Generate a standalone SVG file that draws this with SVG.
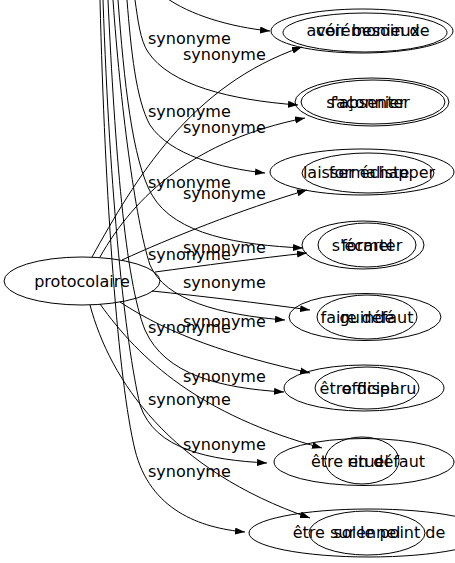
<svg xmlns="http://www.w3.org/2000/svg" width="455" height="563" viewBox="0 0 455 563">
<style>
.n ellipse{fill:none;stroke:#000;stroke-width:1}
text{font-family:"DejaVu Sans",sans-serif;font-size:16px;fill:#000}
.n text{text-anchor:middle}
.e path{fill:none;stroke:#000;stroke-width:1;marker-end:url(#ah)}
</style>
<defs>
<marker id="ah" markerUnits="userSpaceOnUse" markerWidth="11" markerHeight="8" refX="10" refY="3.5" orient="auto">
<path d="M0,0 L10,3.5 L0,7 z" fill="#000"/>
</marker>
</defs>
<rect width="455" height="563" fill="#fff"/>
<g id="edges" class="e">
<path d="M165,-3 C190,15 230,27 270,31"/>
<path d="M135,0 C138,20 140,40 148,52 C170,85 230,100 298,105"/>
<path d="M127,0 C131,50 136,100 150,125 C170,155 220,168 265,173"/>
<path d="M118,0 C124,80 132,160 152,195 C175,235 240,245 303,248"/>
<path d="M113,0 C120,100 135,220 150,265 C165,300 220,315 285,320"/>
<path d="M108,0 C115,150 125,280 145,330 C165,375 220,388 284,392"/>
<path d="M103,0 C110,200 125,340 140,405 C155,450 210,460 267,463"/>
<path d="M100,0 C105,200 118,380 135,450 C150,510 200,528 245,532"/>
<path d="M92,257 C135,180 190,85 302,47"/>
<path d="M100,257 C135,195 195,140 305,118"/>
<path d="M122,260 C170,238 240,210 307,190"/>
<path d="M155,272 C200,266 260,258 307,253"/>
<path d="M152,291 C200,296 260,303 310,310"/>
<path d="M120,302 C170,335 230,355 310,373"/>
<path d="M100,304 C140,360 200,415 322,448"/>
<path d="M90,305 C110,380 170,470 310,518"/>
</g>
<g id="labels">
<text x="148" y="44">synonyme</text>
<text x="148" y="117">synonyme</text>
<text x="148" y="188">synonyme</text>
<text x="148" y="260">synonyme</text>
<text x="148" y="333">synonyme</text>
<text x="148" y="405">synonyme</text>
<text x="148" y="477">synonyme</text>
<text x="183" y="60">synonyme</text>
<text x="183" y="133">synonyme</text>
<text x="183" y="199">synonyme</text>
<text x="183" y="253">synonyme</text>
<text x="183" y="288">synonyme</text>
<text x="183" y="327">synonyme</text>
<text x="183" y="382">synonyme</text>
<text x="183" y="450">synonyme</text>
</g>
<g id="protocolaire" class="n"><ellipse cx="82" cy="281" rx="78" ry="24"/><text x="82" y="287">protocolaire</text></g>
<g id="avoir_besoin_de" class="n"><ellipse cx="362" cy="31" rx="91" ry="22"/><text x="368" y="36">avoir besoin de</text></g>
<g id="ceremonieux" class="n"><ellipse cx="365" cy="32.5" rx="82" ry="19.5"/><text x="368" y="36">cérémonieux</text></g>
<g id="s_absenter" class="n"><ellipse cx="372" cy="102" rx="77" ry="24"/><text x="368" y="108">s'absenter</text></g>
<g id="faconnier" class="n"><ellipse cx="373" cy="102" rx="72" ry="22"/><text x="368" y="108">façonnier</text></g>
<g id="laisser_echapper" class="n"><ellipse cx="362" cy="172" rx="92" ry="23"/><text x="369" y="178">laisser échapper</text></g>
<g id="formaliste" class="n"><ellipse cx="368" cy="173" rx="66" ry="20"/><text x="369" y="178">formaliste</text></g>
<g id="s_ecarter" class="n"><ellipse cx="363" cy="245" rx="61" ry="24"/><text x="367" y="251">s'écarter</text></g>
<g id="formel" class="n"><ellipse cx="367" cy="245" rx="49" ry="22"/><text x="367" y="251">formel</text></g>
<g id="faire_defaut" class="n"><ellipse cx="365" cy="317" rx="76" ry="23.5"/><text x="367" y="323">faire défaut</text></g>
<g id="guinde" class="n"><ellipse cx="367" cy="317" rx="50" ry="22"/><text x="367" y="323">guindé</text></g>
<g id="etre_disparu" class="n"><ellipse cx="364" cy="388" rx="80" ry="23"/><text x="368" y="394">être disparu</text></g>
<g id="officiel" class="n"><ellipse cx="367" cy="388" rx="52" ry="21"/><text x="368" y="394">officiel</text></g>
<g id="etre_en_defaut" class="n"><ellipse cx="364" cy="462" rx="90" ry="23.5"/><text x="368" y="467">être en défaut</text></g>
<g id="rituel" class="n"><ellipse cx="362" cy="460.5" rx="37" ry="23.5"/><text x="368" y="467">rituel</text></g>
<g id="etre_sur_le_point_de" class="n"><ellipse cx="369" cy="533" rx="120" ry="24"/><text x="369" y="538">être sur le point de</text></g>
<g id="solennel" class="n"><ellipse cx="367" cy="533" rx="58" ry="22"/><text x="367" y="538">solennel</text></g>
</svg>
